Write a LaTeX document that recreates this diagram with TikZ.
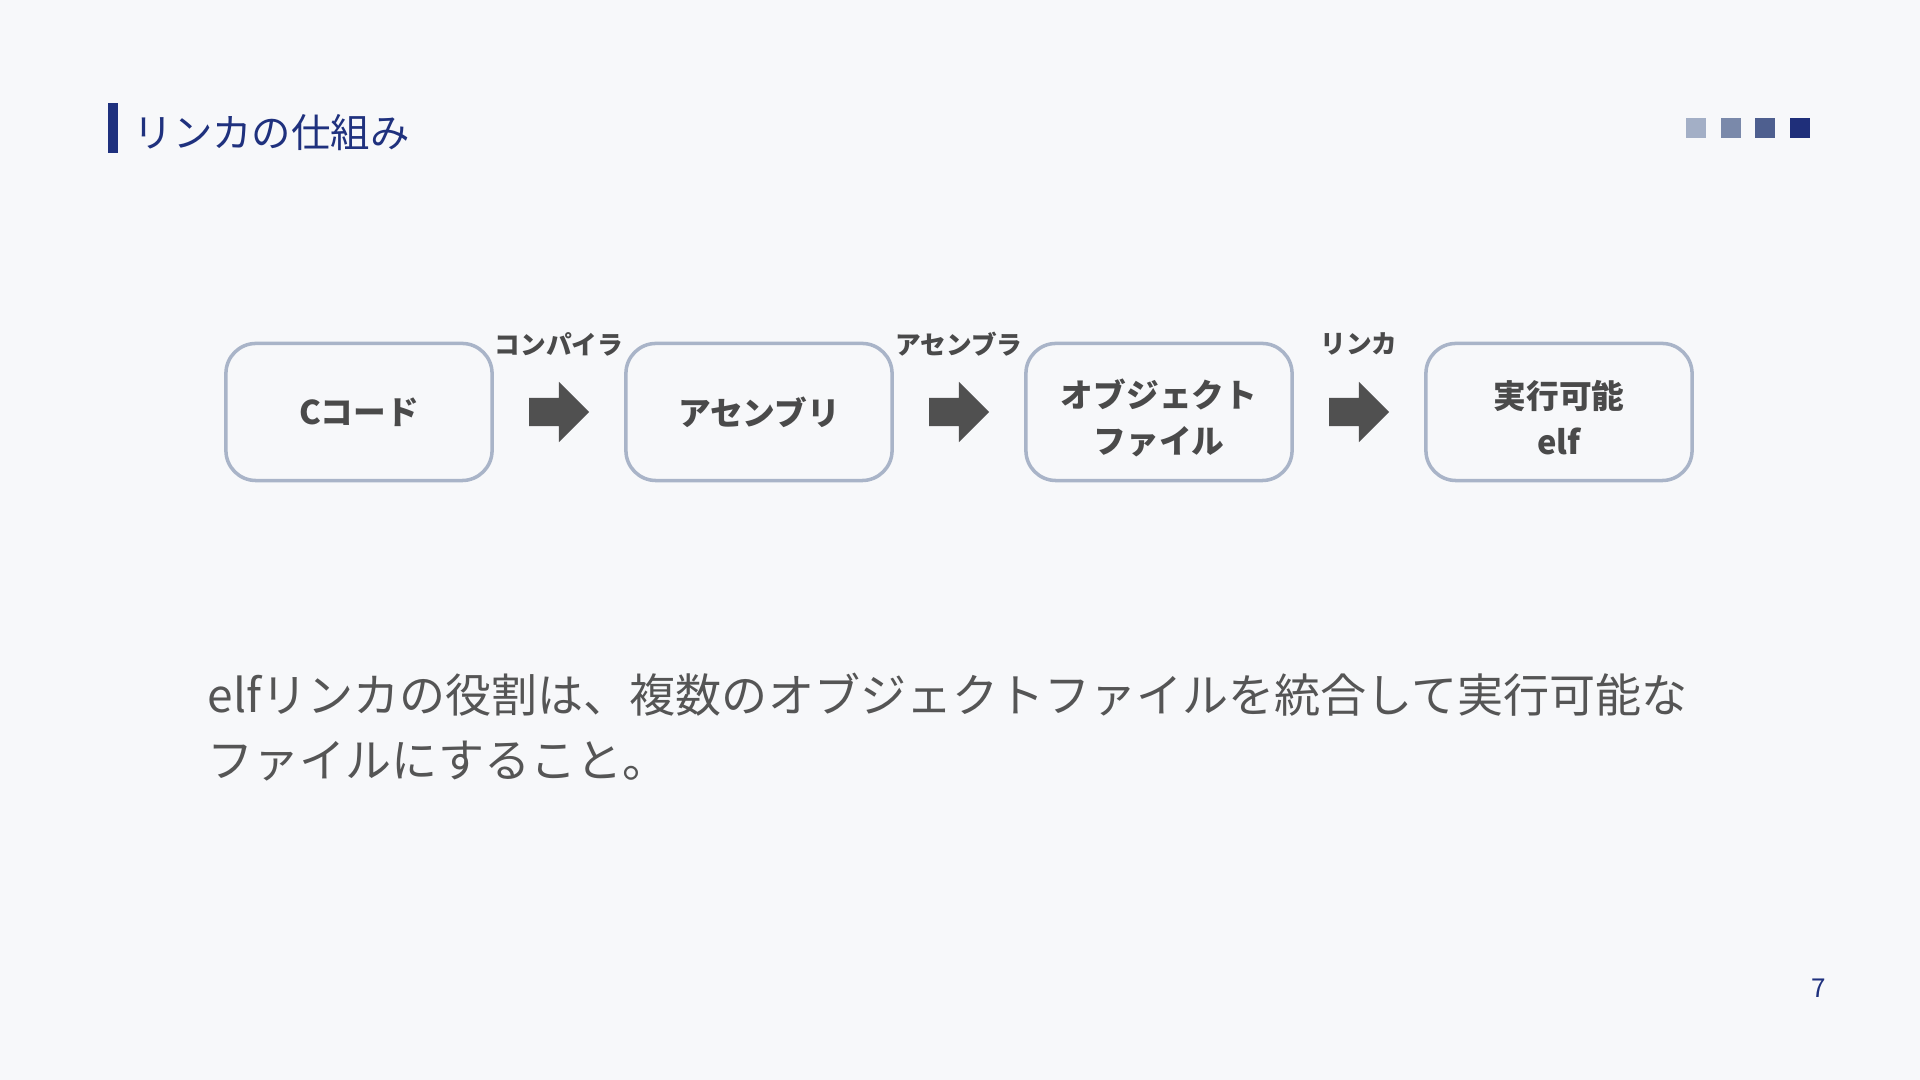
\documentclass[tikz,border=0pt]{standalone}
\usepackage{fontspec}
\setmainfont{Noto Sans CJK JP}
\usetikzlibrary{shapes.arrows,positioning,calc}

\definecolor{pagebg}{HTML}{F7F8FA}
\definecolor{navy}{HTML}{1F317E}
\definecolor{boxline}{HTML}{A9B4C8}
\definecolor{boxtext}{HTML}{4A4A4A}
\definecolor{bodytext}{HTML}{555555}
\definecolor{arrowgray}{HTML}{505050}
\definecolor{dotA}{HTML}{A3AFC6}
\definecolor{dotB}{HTML}{7A89AA}
\definecolor{dotC}{HTML}{4E5F8F}
\definecolor{dotD}{HTML}{1F2F7A}

\begin{document}
\begin{tikzpicture}[x=0.01cm,y=-0.01cm,
  stage node/.style={draw=boxline,line width=1pt,rounded corners=0.3cm,fill=pagebg,minimum width=2.66cm,minimum height=1.37cm,align=center,text=boxtext,font=\fontsize{9.3}{13.1}\selectfont\bfseries},
  two lines/.style={text height=0.86cm},
  flow arrow/.style={single arrow,fill=arrowgray,draw=none,inner xsep=0pt,inner ysep=0.135cm,minimum height=0.6cm,single arrow head extend=0.16cm,xshift=-0.07cm},
  tool label/.style={font=\fontsize{7.3}{8}\selectfont\bfseries,text=boxtext,inner sep=0pt},
  dot node/.style={minimum size=0.2cm,inner sep=0pt},
  body line/.style={anchor=base west,inner sep=0pt,text=bodytext,font=\fontsize{13.1}{18.5}\selectfont}]

  \fill[pagebg] (0,0) rectangle (1920,1080);
  \useasboundingbox (0,0) rectangle (1920,1080);

  % header
  \fill[navy] (108,103) rectangle (118,153);
  \node[anchor=west,inner sep=0pt,text=navy,font=\fontsize{11.2}{13}\selectfont] at (133,133) (title) {リンカの仕組み};

  \node[dot node,fill=dotA] at (1696,128) (d1) {};
  \node[dot node,fill=dotB] at (1731,128) (d2) {};
  \node[dot node,fill=dotC] at (1765,128) (d3) {};
  \node[dot node,fill=dotD] at (1800,128) (d4) {};

  % stages
  \node[stage node] at (359,412) (ccode) {Cコード};
  \node[stage node] at (759,412) (asm) {アセンブリ};
  \node[stage node,two lines] at (1159,412) (obj) {オブジェクト\\ファイル};
  \node[stage node,two lines] at (1559,412) (exe) {実行可能\\elf};

  \node[flow arrow] at ($(ccode.east)!0.5!(asm.west)$) (a1) {};
  \node[flow arrow] at ($(asm.east)!0.5!(obj.west)$) (a2) {};
  \node[flow arrow] at ($(obj.east)!0.5!(exe.west)$) (a3) {};

  \node[tool label] at ($(ccode.east)!0.5!(asm.west) + (0,-68)$) (l1) {コンパイラ};
  \node[tool label] at ($(asm.east)!0.5!(obj.west) + (0,-68)$) (l2) {アセンブラ};
  \node[tool label] at ($(obj.east)!0.5!(exe.west) + (0,-68)$) (l3) {リンカ};

  % text
  \node[body line] at (207,713) (body1) {elfリンカの役割は、複数のオブジェクトファイルを統合して実行可能な};
  \node[body line] at (207,778) (body2) {ファイルにすること。};

  \node[text=navy,inner sep=0pt,font=\fontsize{7.4}{8}\selectfont] at (1819,988) (pagenum) {7};
\end{tikzpicture}
\end{document}
